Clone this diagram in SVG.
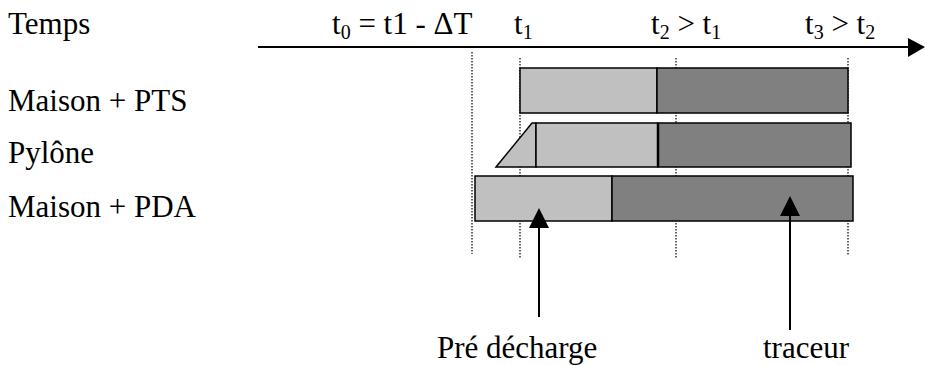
<svg xmlns="http://www.w3.org/2000/svg" width="925" height="365" viewBox="0 0 925 365">
<style>
text{font-size:31px;fill:#000}
.sub{font-size:20px}
.light{fill:#c0c0c0;stroke:#000;stroke-width:1.5}
.dark{fill:#808080;stroke:#000;stroke-width:1.5}
.dot{stroke:#333;stroke-width:1.5;stroke-dasharray:1.5 1.5;fill:none}
.ln{stroke:#000;stroke-width:2;fill:none}
</style>
<rect width="925" height="365" fill="#fff"/>
<g font-family="Liberation Serif, DejaVu Serif, serif">
<g id="labels">
<text x="8" y="34">Temps</text>
<text x="8" y="111">Maison + PTS</text>
<text x="8" y="163">Pylône</text>
<text x="8" y="217">Maison + PDA</text>
</g>
<g id="axis">
<line class="ln" x1="258" y1="47" x2="910" y2="47"/>
<polygon points="908,38 925,47 908,57" fill="#000"/>
<text x="332" y="34">t<tspan class="sub" dy="5">0</tspan><tspan dy="-5"> = t1 - ΔT</tspan></text>
<text x="514" y="34">t<tspan class="sub" dy="5">1</tspan></text>
<text x="651" y="34">t<tspan class="sub" dy="5">2</tspan><tspan dy="-5"> &gt; t</tspan><tspan class="sub" dy="5">1</tspan></text>
<text x="805" y="34">t<tspan class="sub" dy="5">3</tspan><tspan dy="-5"> &gt; t</tspan><tspan class="sub" dy="5">2</tspan></text>
</g>
<g id="guides">
<line class="dot" x1="472" y1="52" x2="472" y2="254"/>
<line class="dot" x1="520" y1="58" x2="520" y2="259"/>
<line class="dot" x1="676" y1="58" x2="676" y2="259"/>
<line class="dot" x1="848" y1="58" x2="848" y2="255"/>
</g>
<g id="maison-pts">
<rect class="light" x="520" y="68" width="137" height="45"/>
<rect class="dark" x="657" y="68" width="191" height="45"/>
</g>
<g id="pylone">
<polygon class="light" points="496,167 532,123 536,123 536,167"/>
<rect class="light" x="536" y="123" width="122" height="44"/>
<rect class="dark" x="658" y="123" width="193" height="44"/>
<line x1="658" y1="123" x2="658" y2="167" stroke="#000" stroke-width="2.5"/>
</g>
<g id="maison-pda">
<rect class="light" x="475" y="176" width="137" height="45"/>
<rect class="dark" x="612" y="176" width="241" height="45"/>
</g>
<g id="connectors">
<line class="ln" x1="539" y1="317" x2="539" y2="226"/>
<polygon points="539,208 549,228 529,228" fill="#000"/>
<line class="ln" x1="790" y1="330" x2="790" y2="214"/>
<polygon points="790,196 800,216 780,216" fill="#000"/>
</g>
<g id="annotations">
<text x="437" y="358">Pré décharge</text>
<text x="763" y="358">traceur</text>
</g>
</g>
</svg>
